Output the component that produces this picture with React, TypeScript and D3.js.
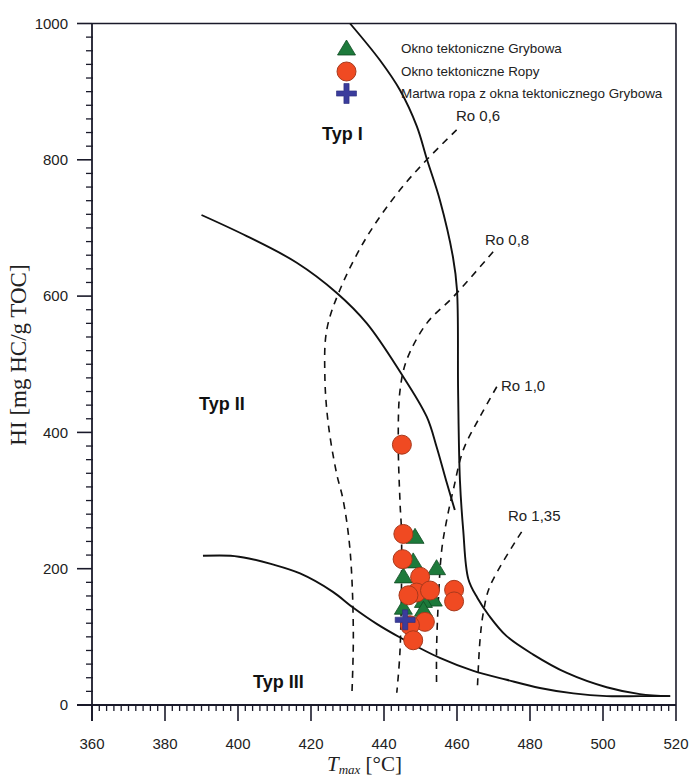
import React from "react";
import * as d3 from "d3";

const W = 691;
const H = 776;

// Boundary curves (Tmax °C, HI)
const typeIT = [430.7, 438.9, 444.4, 449.0, 451.8, 455.3, 458.9, 460.0, 460.3, 460.8, 461.7, 463.1, 465.6, 468.8, 473.6, 480.9, 490.1, 501.0, 510.1, 518.4];
const typeIHI = [1000, 946, 902, 849, 800, 741, 657, 609, 462, 330, 257, 185, 157, 131, 101, 74, 47, 26, 16, 13];

const typeIIT = [390.0, 402.4, 416.1, 427.0, 435.3, 444.4, 451.7, 454.4, 457.2, 459.4];
const typeIIHI = [719, 688, 649, 605, 560, 489, 423, 379, 326, 286];

const typeIIIT = [390.4, 398.0, 403.0, 409.0, 417.0, 426.0, 431.5, 438.0, 444.4, 455.3, 464.5, 473.6, 482.7, 491.9, 501.0, 510.1, 518.4];
const typeIIIHI = [219, 219, 215, 207, 193, 166, 143, 119, 99, 69, 50, 37, 25, 17, 13, 13, 13];

// Vitrinite reflectance isolines
const ro06T = [459.9, 451.7, 444.4, 435.3, 427.9, 424.3, 423.8, 424.7, 427.0, 428.8, 430.7, 431.6, 431.2];
const ro06HI = [844, 800, 756, 687, 609, 550, 482, 414, 340, 301, 227, 106, 15];

const ro08T = [469.9, 459.0, 451.7, 446.2, 444.4, 443.9, 444.4, 444.8, 444.4, 443.5];
const ro08HI = [665, 599, 560, 506, 462, 389, 296, 252, 81, 18];

const ro10T = [470.9, 466.3, 461.7, 459.0, 457.2, 455.8, 454.9, 454.4, 454.4];
const ro10HI = [467, 423, 374, 316, 272, 227, 154, 81, 32];

const ro135T = [477.7, 469.0, 467.2, 466.3, 465.6];
const ro135HI = [254, 174, 135, 95, 26];

// Samples
const grybowaT = [448.5, 448.0, 445.3, 454.4, 453.5, 450.8, 445.3, 450.8];
const grybowaHI = [246, 210, 188, 200, 154, 152, 142, 139];

const ropyT = [444.9, 445.3, 445.1, 449.9, 448.9, 452.6, 446.7, 459.2, 459.2, 451.2, 447.1, 448.0];
const ropyHI = [382, 251, 214, 188, 165, 168, 161, 169, 152, 122, 117, 95];

const oilT = [445.8];
const oilHI = [125];

const xTicks = [360, 380, 400, 420, 440, 460, 480, 500, 520];
const yTicks = [0, 200, 400, 600, 800, 1000];

const legendLabels = [
  "Okno tektoniczne Grybowa",
  "Okno tektoniczne Ropy",
  "Martwa ropa z okna tektonicznego Grybowa",
];

const roLabels = ["Ro 0,6", "Ro 0,8", "Ro 1,0", "Ro 1,35"];
const typeLabels = ["Typ I", "Typ II", "Typ III"];

const x = d3.scaleLinear().domain([360, 520]).range([92, 676]);
const y = d3.scaleLinear().domain([0, 1000]).range([705, 23.5]);

const zip = (a: number[], b: number[]) => a.map((v, i) => [v, b[i]] as [number, number]);

const line = d3
  .line<[number, number]>()
  .x((d) => x(d[0]))
  .y((d) => y(d[1]))
  .curve(d3.curveCatmullRom.alpha(0.5));

const SANS = "'Liberation Sans', Arial, Helvetica, sans-serif";
const SERIF = "'Liberation Serif', 'Times New Roman', serif";

const GREEN = "#1d7a3b";
const GREEN_S = "#0f4a22";
const RED = "#f04a22";
const RED_S = "#a8391c";
const BLUE = "#3a3c9c";

function Triangle({ cx, cy }: { cx: number; cy: number }) {
  const w = 18;
  const h = 15;
  return (
    <path
      d={`M${cx},${cy - h * 0.6}L${cx + w / 2},${cy + h * 0.4}L${cx - w / 2},${cy + h * 0.4}Z`}
      fill={GREEN}
      stroke={GREEN_S}
      strokeWidth={0.8}
    />
  );
}

function Circle({ cx, cy }: { cx: number; cy: number }) {
  return <circle cx={cx} cy={cy} r={9.5} fill={RED} stroke={RED_S} strokeWidth={1} />;
}

function Cross({ cx, cy }: { cx: number; cy: number }) {
  const a = 10;
  const t = 2.6;
  const d = `M${cx - t},${cy - a}H${cx + t}V${cy - t}H${cx + a}V${cy + t}H${cx + t}V${cy + a}H${cx - t}V${cy + t}H${cx - a}V${cy - t}H${cx - t}Z`;
  return <path d={d} fill={BLUE} stroke="#2a2c7a" strokeWidth={0.6} />;
}

export default function App() {
  const xMinor = d3.range(360, 521, 2).filter((v) => v % 20 !== 0);
  const yMinor = d3.range(0, 1001, 20).filter((v) => v % 200 !== 0);
  const solid = [zip(typeIT, typeIHI), zip(typeIIT, typeIIHI), zip(typeIIIT, typeIIIHI)];
  const dashed = [zip(ro06T, ro06HI), zip(ro08T, ro08HI), zip(ro10T, ro10HI), zip(ro135T, ro135HI)];
  const roPos: [number, number][] = [
    [456, 116],
    [485, 240],
    [501, 386],
    [508, 516],
  ];
  const typePos: [number, number][] = [
    [322, 134],
    [199, 404],
    [253, 682],
  ];
  const axisColor = "#1a1a2a";

  return (
    <svg
      width={W}
      height={H}
      style={{ position: "absolute", left: 0, top: 0, background: "#ffffff" }}
    >
      <rect x={0} y={0} width={W} height={H} fill="#ffffff" />

      {/* frame */}
      <line x1={x(360)} x2={x(520)} y1={y(1000)} y2={y(1000)} stroke={axisColor} strokeWidth={1.6} />
      <line x1={x(520)} x2={x(520)} y1={y(1000)} y2={y(0)} stroke={axisColor} strokeWidth={1.6} />
      <line x1={77} x2={x(520)} y1={y(0)} y2={y(0)} stroke={axisColor} strokeWidth={1.8} />
      <line x1={x(360)} x2={x(360)} y1={y(1000)} y2={721} stroke={axisColor} strokeWidth={1.8} />

      {/* x ticks */}
      {xTicks.map((t) => (
        <g key={"xt" + t}>
          <line x1={x(t)} x2={x(t)} y1={y(0)} y2={y(0) + 16} stroke={axisColor} strokeWidth={1.6} />
          <text x={x(t)} y={749} textAnchor="middle" fontFamily={SANS} fontSize={15} fill="#222">
            {t}
          </text>
        </g>
      ))}
      {xMinor.map((t) => (
        <line key={"xm" + t} x1={x(t)} x2={x(t)} y1={y(0)} y2={y(0) + 6} stroke={axisColor} strokeWidth={1.3} />
      ))}

      {/* y ticks */}
      {yTicks.map((t) => (
        <g key={"yt" + t}>
          <line x1={77} x2={x(360)} y1={y(t)} y2={y(t)} stroke={axisColor} strokeWidth={1.6} />
          <text x={68} y={y(t)} dy="0.35em" textAnchor="end" fontFamily={SANS} fontSize={15} fill="#222">
            {t}
          </text>
        </g>
      ))}
      {yMinor.map((t) => (
        <line key={"ym" + t} x1={x(360) - 6} x2={x(360) + 1} y1={y(t)} y2={y(t)} stroke={axisColor} strokeWidth={1.3} />
      ))}

      {/* axis titles */}
      <text
        transform={`translate(26,355) rotate(-90)`}
        textAnchor="middle"
        fontFamily={SERIF}
        fontSize={23}
        fill="#222"
      >
        HI [mg HC/g TOC]
      </text>
      <text x={327} y={771} fontFamily={SERIF} fontSize={21} fill="#222">
        <tspan fontStyle="italic">T</tspan>
        <tspan fontStyle="italic" fontSize={13} dy={3}>
          max
        </tspan>
        <tspan dy={-3}> [°C]</tspan>
      </text>

      {/* boundary curves */}
      {solid.map((pts, i) => (
        <path key={"s" + i} d={line(pts) || ""} fill="none" stroke="#111" strokeWidth={1.9} />
      ))}
      {dashed.map((pts, i) => (
        <path
          key={"d" + i}
          d={line(pts) || ""}
          fill="none"
          stroke="#111"
          strokeWidth={1.6}
          strokeDasharray="7 6"
        />
      ))}

      {/* Ro labels */}
      {roLabels.map((l, i) => (
        <text key={l} x={roPos[i][0]} y={roPos[i][1]} dy="0.35em" fontFamily={SANS} fontSize={15} fill="#222">
          {l}
        </text>
      ))}

      {/* Type labels */}
      {typeLabels.map((l, i) => (
        <text
          key={l}
          x={typePos[i][0]}
          y={typePos[i][1]}
          dy="0.35em"
          fontFamily={SANS}
          fontWeight="bold"
          fontSize={18}
          fill="#111"
        >
          {l}
        </text>
      ))}

      {/* samples */}
      {grybowaT.map((t, i) => (
        <Triangle key={"g" + i} cx={x(t)} cy={y(grybowaHI[i])} />
      ))}
      {ropyT.map((t, i) => (
        <Circle key={"r" + i} cx={x(t)} cy={y(ropyHI[i])} />
      ))}
      {oilT.map((t, i) => (
        <Cross key={"o" + i} cx={x(t)} cy={y(oilHI[i])} />
      ))}

      {/* legend */}
      <g>
        <Triangle cx={346.5} cy={49} />
        <Circle cx={346.5} cy={71.5} />
        <Cross cx={346.5} cy={93.5} />
        {legendLabels.map((l, i) => (
          <text
            key={l}
            x={401}
            y={48.5 + i * 22.5}
            dy="0.35em"
            fontFamily={SANS}
            fontSize={13.4}
            fill="#222"
          >
            {l}
          </text>
        ))}
      </g>
    </svg>
  );
}
